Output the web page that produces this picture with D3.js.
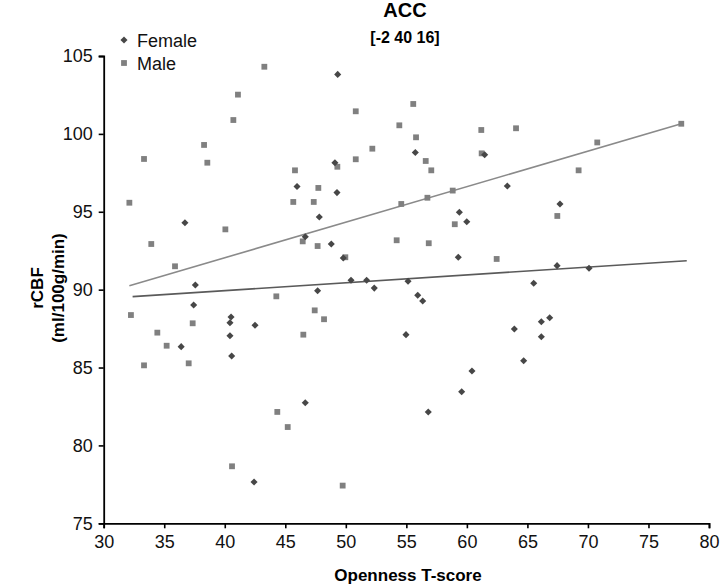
<!DOCTYPE html>
<html>
<head>
<meta charset="utf-8">
<script src="https://cdn.jsdelivr.net/npm/d3@7/dist/d3.min.js"></script>
<style>
  html, body { margin: 0; padding: 0; background: #fff; }
  svg { display: block; font-family: "Liberation Sans", Arial, sans-serif; }
</style>
</head>
<body>
<svg id="chart" width="720" height="588"></svg>
<script>
// ---- data ----
const xTicks = [30, 35, 40, 45, 50, 55, 60, 65, 70, 75, 80];
const yTicks = [75, 80, 85, 90, 95, 100, 105];

const femaleX = [49.33, 49.1, 55.74, 45.97, 49.27, 63.34, 47.81, 36.71, 46.65, 48.8,
  49.79, 50.43, 51.72, 52.35, 55.14, 55.94, 37.57, 47.67, 37.43, 40.52,
  40.43, 42.5, 40.43, 54.97, 36.4, 40.57, 67.69, 59.38, 59.99, 59.29,
  67.45, 70.09, 65.52, 56.35, 66.84, 66.15, 63.92, 66.15, 46.65, 42.42,
  64.69, 60.42, 59.57, 56.81, 61.47];
const femaleY = [103.82, 98.15, 98.8, 96.62, 96.23, 96.65, 94.66, 94.3, 93.4, 92.93,
  92.03, 90.6, 90.6, 90.1, 90.54, 89.64, 90.3, 89.93, 89.01, 88.24,
  87.88, 87.71, 87.04, 87.11, 86.34, 85.74, 95.5, 94.97, 94.36, 92.08,
  91.54, 91.37, 90.41, 89.27, 88.2, 87.94, 87.47, 86.98, 82.74, 77.65,
  85.44, 84.78, 83.45, 82.15, 98.66];

const maleX = [43.27, 41.09, 40.71, 38.29, 38.56, 33.33, 50.82, 55.57, 54.42, 55.8,
  52.19, 50.82, 49.3, 45.8, 47.73, 61.19, 64.06, 61.22, 56.6, 57.06,
  70.77, 77.71, 69.23, 58.83, 56.74, 32.12, 45.66, 47.35, 54.58, 40.05,
  33.93, 46.44, 47.67, 54.2, 49.96, 35.89, 44.26, 32.25, 47.43, 48.2,
  37.35, 34.43, 46.49, 35.2, 67.47, 59.0, 56.85, 62.46, 33.33, 37.02,
  44.34, 45.2, 40.6, 49.74];
const maleY = [104.31, 102.52, 100.89, 99.29, 98.15, 98.39, 101.45, 101.92, 100.55, 99.78,
  99.05, 98.37, 97.89, 97.66, 96.53, 100.25, 100.36, 98.75, 98.26, 97.66,
  99.45, 100.65, 97.66, 96.36, 95.9, 95.58, 95.63, 95.63, 95.5, 93.87,
  92.93, 93.1, 92.8, 93.17, 92.08, 91.5, 89.57, 88.37, 88.67, 88.1,
  87.84, 87.24, 87.11, 86.4, 94.73, 94.2, 92.98, 91.97, 85.14, 85.27,
  82.15, 81.18, 78.66, 77.42];

// linear trendlines (endpoints)
const maleTrendX = [32.12, 77.71];
const maleTrendY = [90.25, 100.65];
const femaleTrendX = [32.39, 78.16];
const femaleTrendY = [89.55, 91.86];

const seriesNames = ["Female", "Male"];

// ---- drawing ----
const svg = d3.select("#chart");
const x = d3.scaleLinear().domain([30, 80]).range([103.7, 709]);
const y = d3.scaleLinear().domain([75, 105]).range([523.3, 56]);

const femaleColor = "#474747";
const maleColor = "#808080";

// trendlines
const line = d3.line().x(d => x(d[0])).y(d => y(d[1]));
svg.append("path")
  .datum(d3.zip(maleTrendX, maleTrendY))
  .attr("d", line).attr("fill", "none")
  .attr("stroke", "#8a8a8a").attr("stroke-width", 1.6);
svg.append("path")
  .datum(d3.zip(femaleTrendX, femaleTrendY))
  .attr("d", line).attr("fill", "none")
  .attr("stroke", "#5a5a5a").attr("stroke-width", 1.6);

// male squares
const sq = 5.8;
svg.append("g").selectAll("rect")
  .data(d3.zip(maleX, maleY)).join("rect")
  .attr("x", d => x(d[0]) - sq / 2)
  .attr("y", d => y(d[1]) - sq / 2)
  .attr("width", sq).attr("height", sq)
  .attr("fill", maleColor);

// female diamonds
const diamond = d3.symbol().type(d3.symbolDiamond2).size(32);
svg.append("g").selectAll("path")
  .data(d3.zip(femaleX, femaleY)).join("path")
  .attr("d", diamond)
  .attr("transform", d => `translate(${x(d[0])},${y(d[1])})`)
  .attr("fill", femaleColor);

// axes
const xAxis = d3.axisBottom(x).tickValues(xTicks).tickSizeOuter(0).tickSize(5).tickPadding(7);
const yAxis = d3.axisLeft(y).tickValues(yTicks).tickSizeOuter(0).tickSize(5).tickPadding(6);

const gx = svg.append("g").attr("transform", `translate(0,${y(75)})`).call(xAxis);
const gy = svg.append("g").attr("transform", `translate(${x(30)},0)`).call(yAxis);
[gx, gy].forEach(g => {
  g.selectAll(".domain").attr("stroke", "#000").attr("stroke-width", 1.8);
  g.selectAll(".tick line").attr("stroke", "#000").attr("stroke-width", 1.6);
  g.selectAll(".tick text")
    .attr("font-family", "'Liberation Sans', Arial, sans-serif")
    .attr("font-size", 18).attr("fill", "#111");
});

// titles
svg.append("text").attr("x", 405).attr("y", 17)
  .attr("text-anchor", "middle").attr("font-weight", "bold").attr("font-size", 20)
  .text("ACC");
svg.append("text").attr("x", 405).attr("y", 43)
  .attr("text-anchor", "middle").attr("font-weight", "bold").attr("font-size", 16)
  .text("[-2 40 16]");

// x axis title
svg.append("text").attr("x", 408).attr("y", 581)
  .attr("text-anchor", "middle").attr("font-weight", "bold").attr("font-size", 17)
  .text("Openness T-score");

// y axis title (two lines)
const yt = svg.append("text")
  .attr("transform", `translate(43,288) rotate(-90)`)
  .attr("text-anchor", "middle").attr("font-weight", "bold").attr("font-size", 17);
yt.append("tspan").attr("x", 0).attr("y", 0).text("rCBF");
yt.append("tspan").attr("x", 0).attr("y", 21).text("(ml/100g/min)");

// legend
const legend = svg.append("g");
const legY = [40, 63];
legend.append("path").attr("d", diamond)
  .attr("transform", `translate(124,${legY[0]})`).attr("fill", femaleColor);
legend.append("rect").attr("x", 124 - sq / 2).attr("y", legY[1] - sq / 2)
  .attr("width", sq).attr("height", sq).attr("fill", maleColor);
legend.selectAll("text.leg").data(seriesNames).join("text")
  .attr("class", "leg")
  .attr("x", 137).attr("y", (d, i) => legY[i] + 6.5)
  .attr("font-size", 18).attr("fill", "#111")
  .text(d => d);
</script>
</body>
</html>
